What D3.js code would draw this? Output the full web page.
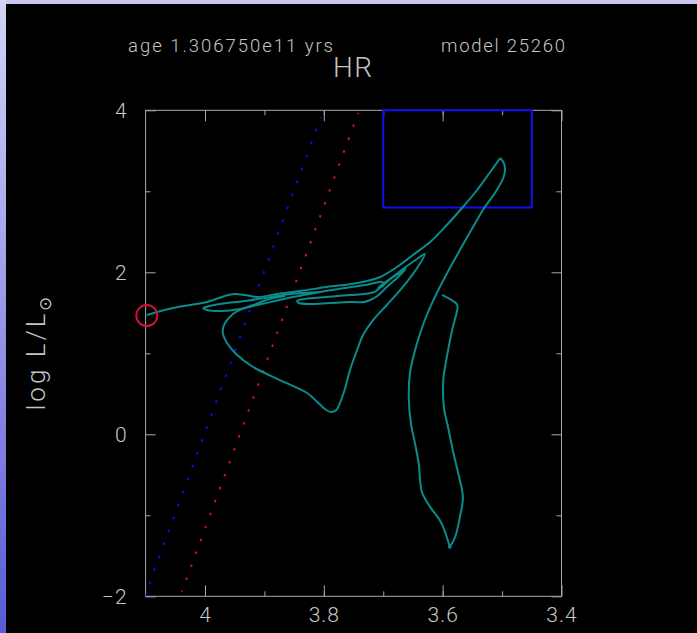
<!DOCTYPE html>
<html><head><meta charset="utf-8">
<script src="https://cdn.jsdelivr.net/npm/d3@7"></script>
<style>html,body{margin:0;padding:0;background:#000;overflow:hidden}</style>
</head><body><svg id="c" width="697" height="633"></svg>
<script>
// ---- data (logTeff, logL) ----
const xMajorTicks = [4.0, 3.8, 3.6, 3.4];
const xTickLabels = ["4", "3.8", "3.6", "3.4"];
const xMinorTicks = [4.0, 3.9, 3.8, 3.7, 3.6, 3.5];
const yMajorTicks = [-2, 0, 2, 4];
const yTickLabels = ["\u22122", "0", "2", "4"];
const yMinorTicks = [-1, 1, 3];

const titleAge = "age 1.306750e11 yrs";
const titleModel = "model 25260";
const titleMain = "HR";

const pmsTrack = [[3.601,1.720],[3.576,1.604],[3.575,1.560],[3.584,1.288],[3.593,0.954],[3.599,0.670],[3.598,0.337],[3.591,0.090],[3.583,-0.194],[3.574,-0.478],[3.566,-0.774],[3.571,-1.021],[3.579,-1.268],[3.588,-1.391]];
const rgbTrack = [[3.588,-1.391],[3.596,-1.206],[3.604,-1.070],[3.621,-0.898],[3.635,-0.712],[3.638,-0.564],[3.640,-0.379],[3.646,-0.132],[3.653,0.115],[3.657,0.423],[3.655,0.757],[3.645,1.078],[3.630,1.411],[3.613,1.696],[3.596,1.942],[3.571,2.275],[3.549,2.559],[3.529,2.806],[3.512,2.979],[3.498,3.164],[3.495,3.263],[3.497,3.349],[3.503,3.411]];
const flashTrack = [[3.503,3.411],[3.520,3.238],[3.542,3.016],[3.566,2.806],[3.593,2.584],[3.621,2.374],[3.650,2.214],[3.677,2.065],[3.705,1.942],[3.727,1.893],[3.753,1.856],[3.795,1.819],[3.840,1.769],[3.879,1.732],[3.911,1.695],[3.933,1.720],[3.948,1.732],[3.961,1.720],[3.997,1.633],[4.054,1.559],[4.098,1.473]];
const loopTrack = [[3.806,1.757],[3.857,1.732],[3.899,1.683],[3.933,1.646],[3.963,1.621],[3.992,1.584],[4.003,1.559],[3.997,1.535],[3.971,1.522],[3.941,1.547],[3.912,1.596],[3.882,1.646],[3.852,1.695],[3.806,1.757],[3.764,1.806],[3.731,1.843],[3.714,1.868],[3.702,1.880],[3.699,1.843],[3.709,1.806],[3.689,1.917],[3.672,1.991],[3.662,2.041],[3.675,1.942],[3.694,1.819],[3.710,1.707],[3.722,1.658],[3.732,1.633],[3.756,1.633],[3.790,1.621],[3.823,1.609],[3.842,1.621],[3.845,1.646],[3.832,1.670],[3.795,1.695],[3.756,1.720],[3.731,1.732],[3.714,1.757]];
const hbTrack = [[3.714,1.757],[3.700,1.843],[3.684,1.942],[3.667,2.041],[3.643,2.164],[3.630,2.226],[3.643,2.053],[3.667,1.819],[3.694,1.596],[3.717,1.411],[3.734,1.226],[3.744,1.041],[3.756,0.794],[3.764,0.572],[3.773,0.386],[3.779,0.300],[3.788,0.275],[3.796,0.300],[3.811,0.399],[3.828,0.510],[3.874,0.670],[3.919,0.831],[3.946,0.979],[3.963,1.127],[3.970,1.251],[3.968,1.349],[3.953,1.485],[3.938,1.547],[3.919,1.596],[3.891,1.670],[3.865,1.707]];

const blueLine = [[4.101,-1.99],[3.805,3.914]];
const blueDots = 38;
const redLine = [[4.039,-1.943],[3.742,3.970]];
const redDots = 38;

const boxTeff = [3.70, 3.45];
const boxLum = [2.8, 4.0];
const currentModel = [4.098, 1.466];

// ---- drawing ----
const svg = d3.select("#c");
const W = 697, H = 633;
const defs = svg.append("defs");
const lg = defs.append("linearGradient").attr("id","side").attr("x1",0).attr("y1",0).attr("x2",0).attr("y2",1);
lg.append("stop").attr("offset","0%").attr("stop-color","#d4d4f8");
lg.append("stop").attr("offset","100%").attr("stop-color","#5a5ad8");
svg.append("rect").attr("width",W).attr("height",H).attr("fill","#000");
svg.append("rect").attr("x",0).attr("y",0).attr("width",W).attr("height",4).attr("fill","#c8c8f0");
svg.append("rect").attr("x",0).attr("y",0).attr("width",6).attr("height",H).attr("fill","url(#side)");

const x = d3.scaleLinear().domain([4.1, 3.4]).range([145.6, 561.5]);
const y = d3.scaleLinear().domain([-2, 4]).range([596.3, 110.3]);

const axisCol = "#a8a8a8", txtCol = "#c4c4c4";
const font = "Roboto, 'DejaVu Sans', sans-serif";

function styleAxis(g){
  g.select(".domain").remove();
  g.selectAll("line").attr("stroke", axisCol).attr("stroke-width",1);
  g.selectAll("text").attr("fill", txtCol).attr("font-family", font).attr("font-weight",300).attr("font-size",21).attr("letter-spacing",1);
}
const fmtX = d => xTickLabels[xMajorTicks.indexOf(d)];
const fmtY = d => yTickLabels[yMajorTicks.indexOf(d)];

svg.append("g").attr("transform",`translate(0,${y(-2)})`)
  .call(d3.axisBottom(x).tickValues(xMajorTicks).tickSize(-11).tickPadding(11).tickFormat(fmtX)).call(styleAxis);
svg.append("g").attr("transform",`translate(0,${y(-2)})`)
  .call(d3.axisBottom(x).tickValues(xMinorTicks).tickSize(-5).tickFormat("")).call(styleAxis);
svg.append("g").attr("transform",`translate(0,${y(4)})`)
  .call(d3.axisTop(x).tickValues(xMajorTicks).tickSize(-11).tickFormat("")).call(styleAxis);
svg.append("g").attr("transform",`translate(0,${y(4)})`)
  .call(d3.axisTop(x).tickValues(xMinorTicks).tickSize(-5).tickFormat("")).call(styleAxis);
svg.append("g").attr("transform",`translate(${x(4.1)},0)`)
  .call(d3.axisLeft(y).tickValues(yMajorTicks).tickSize(-10).tickPadding(18).tickFormat(fmtY)).call(styleAxis);
svg.append("g").attr("transform",`translate(${x(4.1)},0)`)
  .call(d3.axisLeft(y).tickValues(yMinorTicks).tickSize(-5).tickFormat("")).call(styleAxis);
svg.append("g").attr("transform",`translate(${x(3.4)},0)`)
  .call(d3.axisRight(y).tickValues(yMajorTicks).tickSize(-10).tickFormat("")).call(styleAxis);
svg.append("g").attr("transform",`translate(${x(3.4)},0)`)
  .call(d3.axisRight(y).tickValues(yMinorTicks).tickSize(-5).tickFormat("")).call(styleAxis);

// frame
svg.append("rect").attr("x",x(4.1)).attr("y",y(4)).attr("width",x(3.4)-x(4.1)).attr("height",y(-2)-y(4))
  .attr("fill","none").attr("stroke",axisCol).attr("stroke-width",1);

// dotted lines
const straight = d3.line().x(d=>x(d[0])).y(d=>y(d[1]));
function dotted(data, n, col){
  const p = svg.append("path").attr("d", straight(data)).attr("fill","none")
    .attr("stroke", col).attr("stroke-width", 2);
  const len = p.node().getTotalLength();
  const per = len/(n-1);
  p.attr("stroke-dasharray", `2.5 ${per-2.5}`).attr("stroke-dashoffset", 1.25);
}
dotted(blueLine, blueDots, "#0a0aff");
dotted(redLine, redDots, "#c81818");

// box
svg.append("rect").attr("x",x(boxTeff[0])).attr("y",y(boxLum[1]))
  .attr("width",x(boxTeff[1])-x(boxTeff[0])).attr("height",y(boxLum[0])-y(boxLum[1]))
  .attr("fill","none").attr("stroke","#1010f0").attr("stroke-width",2);

// tracks
const smooth = d3.line().x(d=>x(d[0])).y(d=>y(d[1])).curve(d3.curveCatmullRom.alpha(0.5));
[pmsTrack, rgbTrack, flashTrack, loopTrack, hbTrack].forEach(t=>{
  svg.append("path").attr("d", smooth(t)).attr("fill","none")
    .attr("stroke","#0a8c8c").attr("stroke-width",2).attr("stroke-linejoin","round");
});
svg.append("circle").attr("cx",x(pmsTrack[pmsTrack.length-1][0])).attr("cy",y(pmsTrack[pmsTrack.length-1][1])).attr("r",1.8).attr("fill","#0a8c8c");

// current model marker
svg.append("circle").attr("cx",x(currentModel[0])).attr("cy",y(currentModel[1])).attr("r",10.5)
  .attr("fill","none").attr("stroke","#d0103a").attr("stroke-width",2);

// titles
svg.append("text").attr("x",128).attr("y",52).text(titleAge)
  .attr("textLength",205).attr("lengthAdjust","spacing")
  .attr("fill",txtCol).attr("font-family",font).attr("font-weight",300).attr("font-size",18.5);
svg.append("text").attr("x",441).attr("y",52).text(titleModel)
  .attr("textLength",124).attr("lengthAdjust","spacing")
  .attr("fill",txtCol).attr("font-family",font).attr("font-weight",300).attr("font-size",18.5);
svg.append("text").attr("x",333).attr("y",77).text(titleMain)
  .attr("textLength",39).attr("lengthAdjust","spacing")
  .attr("fill",txtCol).attr("font-family",font).attr("font-weight",300).attr("font-size",28);

// y axis title
const yt = svg.append("text").attr("transform","translate(45,352) rotate(-90)").attr("text-anchor","middle")
  .attr("fill",txtCol).attr("font-family",font).attr("font-weight",300).attr("font-size",26).attr("letter-spacing",3);
yt.append("tspan").text("log L/L");
yt.append("tspan").attr("font-size",17).attr("dy",6).attr("font-family","'DejaVu Sans', sans-serif").text("\u2299");
</script></body></html>
